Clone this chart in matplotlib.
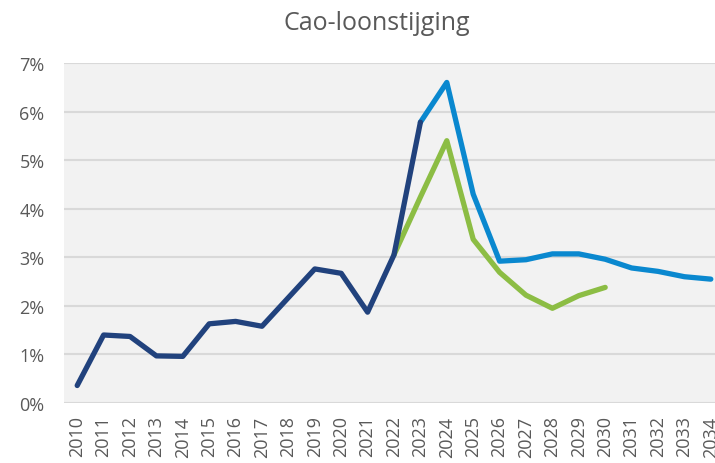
import numpy as np
import matplotlib.pyplot as plt

years = list(range(2010, 2035))

# realisatie
real_years = list(range(2010, 2024))
real_vals = [0.36, 1.40, 1.37, 0.97, 0.96, 1.63, 1.68, 1.58, 2.17, 2.76, 2.67, 1.87, 3.05, 5.78]

# raming (lichtblauw)
proj_years = list(range(2023, 2035))
proj_vals = [5.78, 6.60, 4.30, 2.92, 2.95, 3.07, 3.07, 2.96, 2.78, 2.71, 2.60, 2.55]

# alternatieve raming (groen)
alt_years = list(range(2022, 2031))
alt_vals = [3.05, 4.24, 5.40, 3.37, 2.69, 2.22, 1.95, 2.21, 2.38]

yticks = [0, 1, 2, 3, 4, 5, 6, 7]
ytick_labels = ['%d%%' % v for v in yticks]

plt.rcParams['font.family'] = ['Open Sans', 'DejaVu Sans']

fig = plt.figure(figsize=(7.15, 4.64), dpi=100)
ax = fig.add_axes([64/715, 1-404/464, 660/715, 340/464])
ax.set_facecolor('#f2f2f2')

lw = 3.8
ax.plot(alt_years, alt_vals, color='#8cbd44', lw=lw, solid_capstyle='round', solid_joinstyle='round', zorder=3)
ax.plot(proj_years, proj_vals, color='#0a88cf', lw=lw, solid_capstyle='round', solid_joinstyle='round', zorder=4)
ax.plot(real_years, real_vals, color='#21427d', lw=lw, solid_capstyle='round', solid_joinstyle='round', zorder=5)

ax.set_xlim(2009.5, 2034.5)
ax.set_ylim(0, 7)
ax.set_yticks(yticks)
ax.set_yticklabels(ytick_labels)
ax.set_xticks(years)
ax.set_xticklabels([str(y) for y in years], rotation=90)

ax.grid(axis='y', color='#d9d9d9', lw=1.5)
ax.set_axisbelow(True)
for s in ax.spines.values():
    s.set_visible(False)
ax.tick_params(axis='both', length=0, labelcolor='#595959', labelsize=13)
ax.tick_params(axis='y', pad=14)
ax.tick_params(axis='x', pad=9)

fig.text(377/715, 1-24/464, 'Cao-loonstijging', ha='center', va='center', fontsize=18, color='#595959')

fig.savefig('out.png', dpi=100)
